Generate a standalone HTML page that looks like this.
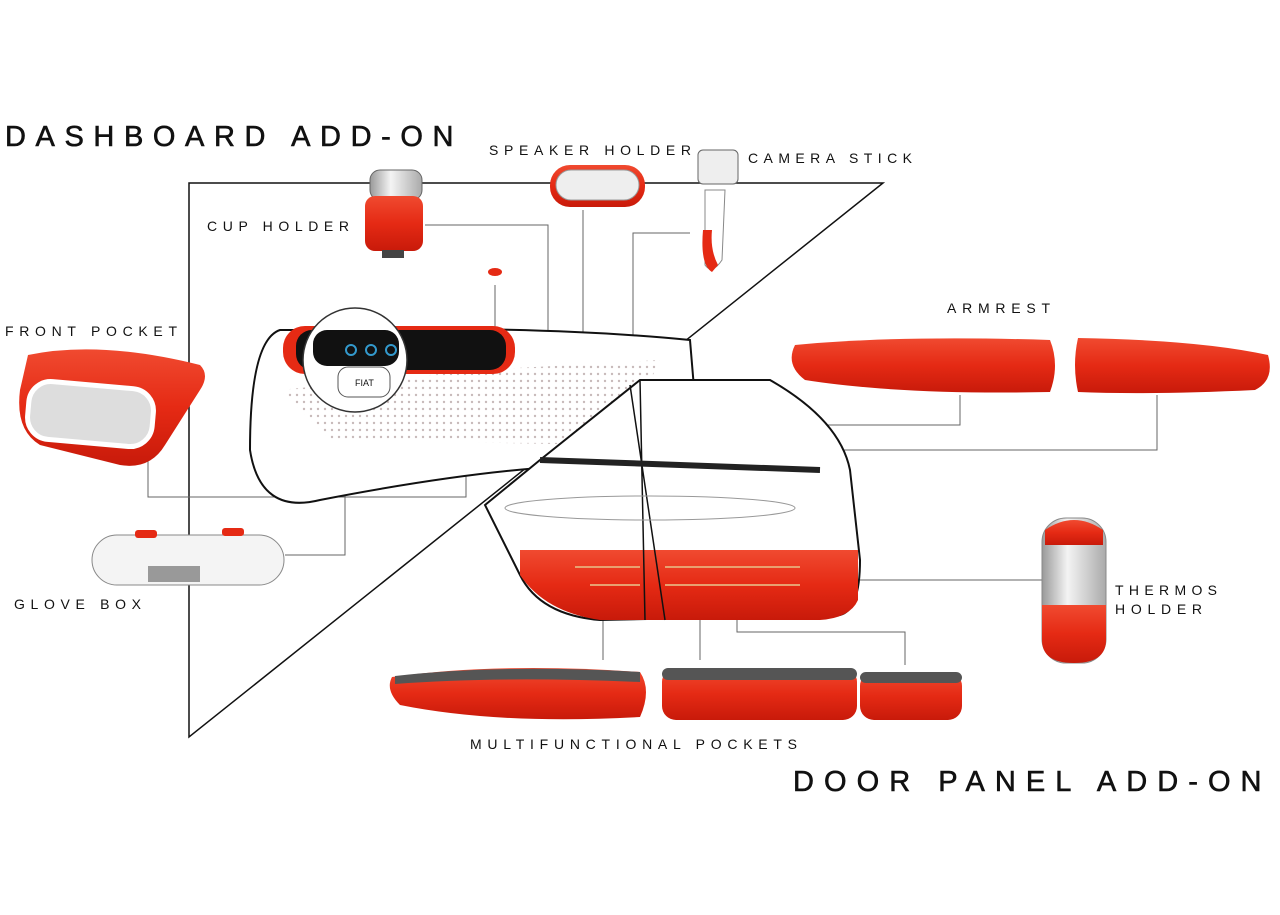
<!DOCTYPE html>
<html><head><style>
html,body{margin:0;padding:0;background:#fff;}
svg{display:block}
text{font-family:"Liberation Sans",sans-serif;fill:#111;}
</style></head><body>
<svg width="1280" height="915" viewBox="0 0 1280 915" xmlns="http://www.w3.org/2000/svg">
<defs>
<linearGradient id="r" x1="0" y1="0" x2="0" y2="1"><stop offset="0" stop-color="#f04a30"/><stop offset="0.5" stop-color="#e52a14"/><stop offset="1" stop-color="#c81a0a"/></linearGradient>
<linearGradient id="s" x1="0" y1="0" x2="1" y2="0"><stop offset="0" stop-color="#999"/><stop offset="0.4" stop-color="#f4f4f4"/><stop offset="1" stop-color="#aaa"/></linearGradient>
<pattern id="dots" width="7" height="7" patternUnits="userSpaceOnUse"><circle cx="3" cy="3" r="1.2" fill="#b9a9a9"/></pattern>
</defs>
<text x="5" y="146" font-size="29" letter-spacing="6.5" stroke="#111" stroke-width="0.6" textLength="455">DASHBOARD ADD-ON</text>
<text x="793" y="791" font-size="29" letter-spacing="6.5" stroke="#111" stroke-width="0.6" textLength="475">DOOR PANEL ADD-ON</text>
<g font-size="14" letter-spacing="3">
<text x="489" y="155" textLength="205">SPEAKER HOLDER</text>
<text x="748" y="163" textLength="167">CAMERA STICK</text>
<text x="207" y="231" textLength="145">CUP HOLDER</text>
<text x="5" y="336" textLength="175">FRONT POCKET</text>
<text x="947" y="313" textLength="106">ARMREST</text>
<text x="14" y="609" textLength="130">GLOVE BOX</text>
<text x="1115" y="595" textLength="105">THERMOS</text>
<text x="1115" y="614" textLength="90">HOLDER</text>
<text x="470" y="749" textLength="330">MULTIFUNCTIONAL POCKETS</text>
</g>
<g stroke="#111" stroke-width="1.5" fill="none">
<path d="M189 183 H883 L189 737 Z"/>
</g>
<g stroke="#666" stroke-width="1" fill="none">
<path d="M425 225 H548 V420"/>
<path d="M583 210 V420"/>
<path d="M690 233 H633 V505"/>
<path d="M148 430 V497 H466 V440"/>
<path d="M345 455 V555 H285"/>
<path d="M960 395 V425 H640"/>
<path d="M1157 395 V450 H780 V500"/>
<path d="M860 580 H1045"/>
<path d="M603 610 V660"/>
<path d="M700 600 V660"/>
<path d="M737 598 V632 H905 V665"/>
<path d="M495 285 V330"/>
</g>
<path d="M280 330 Q250 340 250 450 Q260 515 320 500 Q500 465 610 465 L700 460 L690 340 Q540 325 300 330 Z" fill="#fff" stroke="#111" stroke-width="2"/>
<path d="M280 390 L480 370 L660 360 L620 445 L330 440 Z" fill="url(#dots)" opacity="0.8"/>
<rect x="283" y="326" width="232" height="48" rx="22" fill="#e52a14"/>
<rect x="296" y="330" width="210" height="40" rx="16" fill="#111"/>
<ellipse cx="355" cy="360" rx="52" ry="52" fill="#fff" stroke="#333" stroke-width="1.5"/>
<rect x="313" y="330" width="86" height="36" rx="14" fill="#111"/>
<circle cx="351" cy="350" r="5" fill="none" stroke="#39c" stroke-width="2"/>
<circle cx="371" cy="350" r="5" fill="none" stroke="#39c" stroke-width="2"/>
<circle cx="391" cy="350" r="5" fill="none" stroke="#39c" stroke-width="2"/>
<rect x="338" y="367" width="52" height="30" rx="10" fill="#fff" stroke="#555"/>
<text x="355" y="386" font-size="9">FIAT</text>
<ellipse cx="495" cy="272" rx="7" ry="4" fill="#e52a14"/>
<rect x="370" y="170" width="52" height="30" rx="10" fill="url(#s)" stroke="#666"/>
<rect x="365" y="196" width="58" height="55" rx="10" fill="url(#r)"/>
<rect x="382" y="250" width="22" height="8" fill="#444"/>
<rect x="550" y="165" width="95" height="42" rx="20" fill="url(#r)"/>
<rect x="556" y="170" width="83" height="30" rx="15" fill="#eee" stroke="#999"/>
<rect x="698" y="150" width="40" height="34" rx="5" fill="#eee" stroke="#666"/>
<path d="M705 190 L725 190 L722 260 Q712 275 705 265 Z" fill="#fff" stroke="#888"/>
<path d="M703 230 Q700 265 712 272 L718 265 Q710 250 712 230 Z" fill="#e52a14"/>
<path d="M28 355 Q100 340 200 365 Q210 375 200 390 L165 445 Q150 470 120 465 L40 445 Q15 430 20 390 Z" fill="url(#r)"/>
<rect x="28" y="385" width="125" height="58" rx="22" fill="#ddd" stroke="#fff" stroke-width="5" transform="rotate(5 90 414)"/>
<rect x="92" y="535" width="192" height="50" rx="25" fill="#f4f4f4" stroke="#888"/>
<rect x="148" y="566" width="52" height="16" fill="#999"/>
<rect x="135" y="530" width="22" height="8" rx="3" fill="#e52a14"/>
<rect x="222" y="528" width="22" height="8" rx="3" fill="#e52a14"/>
<path d="M795 345 Q900 335 1050 340 Q1060 365 1050 392 Q900 395 805 380 Q785 365 795 345 Z" fill="url(#r)"/>
<path d="M1078 338 Q1200 340 1268 355 Q1275 380 1255 390 Q1150 395 1078 392 Q1072 365 1078 338 Z" fill="url(#r)"/>
<path d="M540 460 L640 380 L770 380 Q840 420 850 470 L860 560 Q860 610 840 615 L600 620 Q540 615 520 575 L485 505 Z" fill="#fff" stroke="#111" stroke-width="2"/>
<path d="M520 550 L858 550 L858 600 Q850 618 820 620 L600 620 Q545 612 520 575 Z" fill="url(#r)"/>
<path d="M630 385 L665 620 M640 380 L645 620" stroke="#111" stroke-width="1.5"/>
<path d="M540 460 L820 470" stroke="#222" stroke-width="6"/>
<ellipse cx="650" cy="508" rx="145" ry="12" fill="none" stroke="#999"/>
<path d="M575 567 H640 M590 585 H640 M665 567 H800 M665 585 H800" stroke="#e8a070" stroke-width="2"/>
<rect x="1042" y="518" width="64" height="145" rx="24" fill="url(#s)" stroke="#888"/>
<path d="M1042 605 H1106 V640 Q1106 663 1074 663 Q1042 663 1042 640 Z" fill="url(#r)"/>
<path d="M1045 530 Q1074 510 1103 530 V545 H1045 Z" fill="url(#r)"/>
<path d="M392 677 Q500 662 640 672 Q652 690 640 717 Q500 725 400 705 Q385 690 392 677 Z" fill="url(#r)"/>
<path d="M395 676 Q500 664 640 672 L640 682 Q500 676 395 684 Z" fill="#555"/>
<rect x="662" y="668" width="195" height="52" rx="14" fill="url(#r)"/>
<rect x="662" y="668" width="195" height="12" rx="6" fill="#555"/>
<rect x="860" y="672" width="102" height="48" rx="14" fill="url(#r)"/>
<rect x="860" y="672" width="102" height="11" rx="6" fill="#555"/>
</svg>
</body></html>
